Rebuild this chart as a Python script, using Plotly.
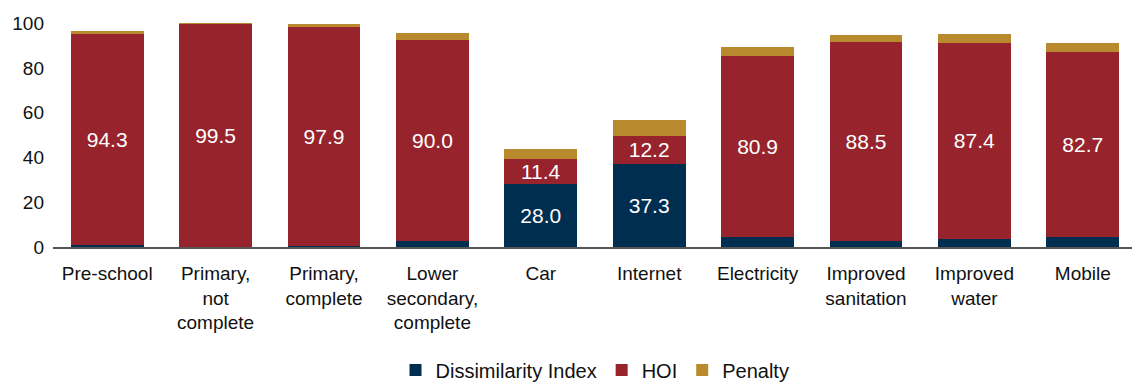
import plotly.graph_objects as go

categories = ["Pre-school", "Primary,<br>not<br>complete", "Primary,<br>complete",
              "Lower<br>secondary,<br>complete", "Car", "Internet", "Electricity",
              "Improved<br>sanitation", "Improved<br>water", "Mobile"]
dissimilarity = [1.0, 0.2, 0.4, 2.5, 28.0, 37.3, 4.3, 2.9, 3.8, 4.3]
hoi = [94.3, 99.5, 97.9, 90.0, 11.4, 12.2, 80.9, 88.5, 87.4, 82.7]
penalty = [1.3, 0.4, 1.4, 3.2, 4.5, 7.3, 4.0, 3.4, 4.2, 4.3]
di_labels = ["", "", "", "", "28.0", "37.3", "", "", "", ""]
hoi_labels = [f"{v:.1f}" for v in hoi]

FONT = "Liberation Sans, Arial, Helvetica, sans-serif"
c_di, c_hoi, c_pen = "#002E51", "#97242D", "#B98A2D"

fig = go.Figure()
fig.add_trace(go.Bar(x=categories, y=dissimilarity, name="Dissimilarity Index",
                     marker=dict(color=c_di, line=dict(width=0)),
                     text=di_labels, textposition="inside", insidetextanchor="middle",
                     textfont=dict(color="white", size=21, family=FONT), hoverinfo="y"))
fig.add_trace(go.Bar(x=categories, y=hoi, name="HOI",
                     marker=dict(color=c_hoi, line=dict(width=0)),
                     text=hoi_labels, textposition="inside", insidetextanchor="middle",
                     textfont=dict(color="white", size=21, family=FONT), hoverinfo="y"))
fig.add_trace(go.Bar(x=categories, y=penalty, name="Penalty",
                     marker=dict(color=c_pen, line=dict(width=0)), hoverinfo="y"))

# page body has an 8px default margin, so the figure is sized 8px smaller
fig.update_layout(
    barmode="stack", bargap=0.33,
    width=1132, height=375,
    margin=dict(l=45, r=3, t=13, b=136, autoexpand=False),
    plot_bgcolor="white", paper_bgcolor="white",
    font=dict(family=FONT, size=19, color="#111111"),
    uniformtext=dict(minsize=21, mode="show"),
    legend=dict(orientation="h", x=0.5, xanchor="center", y=-0.458, yanchor="top",
                font=dict(size=20), traceorder="normal", itemwidth=30),
    showlegend=True,
)
fig.update_xaxes(showline=True, linecolor="#555555", linewidth=2, ticks="",
                 showgrid=False, tickfont=dict(size=19), automargin=False,
                 ticklabelstandoff=8)
fig.update_yaxes(range=[0, 101], tickvals=[0, 20, 40, 60, 80, 100], showgrid=False,
                 zeroline=False, showline=False, ticks="", tickfont=dict(size=19),
                 ticklabelstandoff=8, automargin=False)

fig.write_html("out.html")
